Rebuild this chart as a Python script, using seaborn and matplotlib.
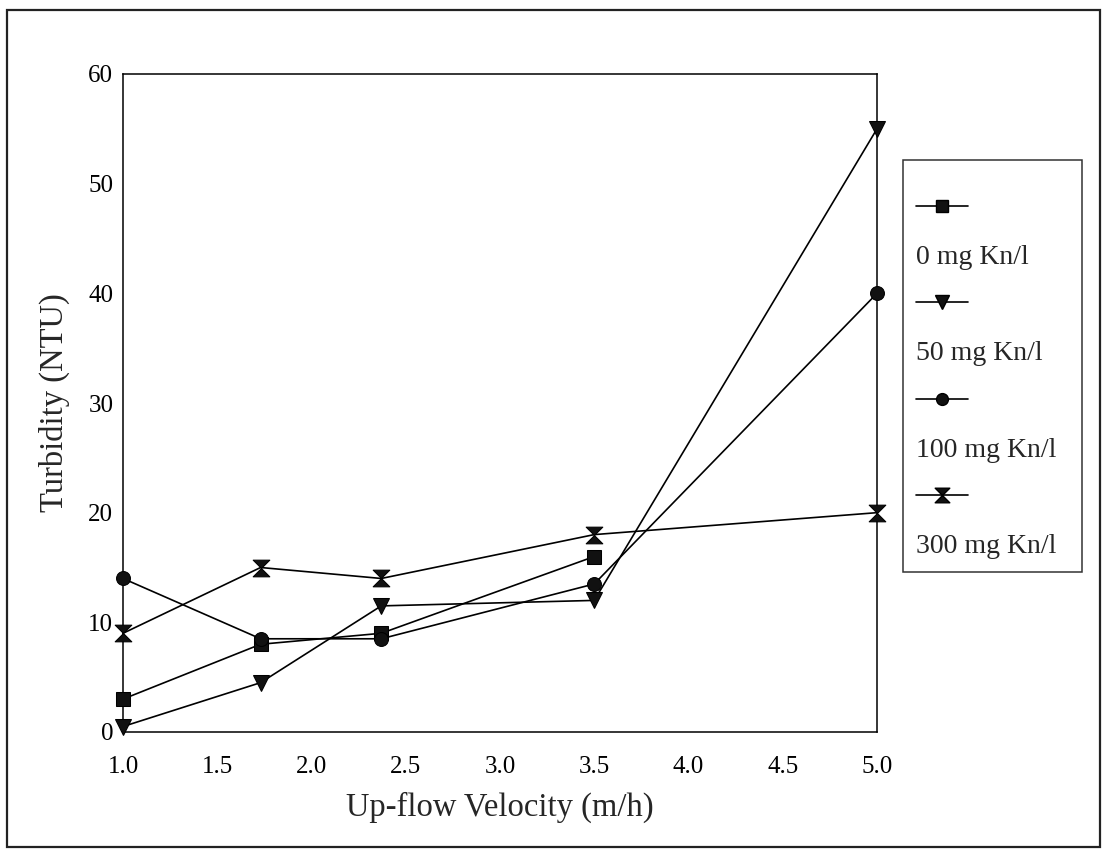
import matplotlib
matplotlib.use("Agg")
import matplotlib.pyplot as plt
import seaborn as sns
import numpy as np
import pandas as pd
from matplotlib.path import Path
from matplotlib.lines import Line2D
from matplotlib.patches import Rectangle
from matplotlib.ticker import MultipleLocator

sns.set_style("white")
plt.rcParams['font.family'] = ['Liberation Serif', 'DejaVu Serif']

# Data
velocity = [1.0, 1.73, 2.37, 3.5, 5.0]
series_labels = ["0 mg Kn/l", "50 mg Kn/l", "100 mg Kn/l", "300 mg Kn/l"]
turb_0 = [3.0, 8.0, 9.0, 16.0]          # no value at 5.0
turb_50 = [0.5, 4.5, 11.5, 12.0, 55.0]
turb_100 = [14.0, 8.5, 8.5, 13.5, 40.0]
turb_300 = [9.0, 15.0, 14.0, 18.0, 20.0]
x_ticks = [1.0, 1.5, 2.0, 2.5, 3.0, 3.5, 4.0, 4.5, 5.0]
y_ticks = [0, 10, 20, 30, 40, 50, 60]

hourglass = Path([(-1, 1), (1, 1), (0, 0), (1, -1), (-1, -1), (0, 0), (-1, 1)],
                 [Path.MOVETO, Path.LINETO, Path.LINETO, Path.LINETO,
                  Path.LINETO, Path.LINETO, Path.CLOSEPOLY])

markers = ["s", "v", "o", hourglass]
msizes = [10, 11, 10, 12]
values = [turb_0, turb_50, turb_100, turb_300]

fig = plt.figure(figsize=(11.07, 8.56), dpi=100)
ax = fig.add_axes([123 / 1107, 1 - 732 / 856, 754 / 1107, (732 - 74) / 856])

handles = []
for lab, vals, m, ms in zip(series_labels, values, markers, msizes):
    df = pd.DataFrame({"Velocity": velocity[:len(vals)], "Turbidity": vals})
    sns.lineplot(data=df, x="Velocity", y="Turbidity", ax=ax, color="black",
                 linewidth=1.2, marker=m, markersize=ms, markeredgecolor="black",
                 markerfacecolor="#111111", legend=False, clip_on=False, zorder=3)
    handles.append(Line2D([], [], color="black", linewidth=1.2, marker=m,
                          markersize=ms - 1.5, markerfacecolor="#111111",
                          markeredgecolor="black"))

ax.set_xlim(1.0, 5.0)
ax.set_ylim(0, 60)
ax.set_xticks(x_ticks)
ax.set_xticklabels([f"{t:.1f}" for t in x_ticks])
ax.set_yticks(y_ticks)
ax.yaxis.set_minor_locator(MultipleLocator(5))
ax.tick_params(axis="both", which="major", direction="in", length=7, width=0.8,
               labelsize=18, colors="black")
ax.tick_params(axis="y", which="major", pad=7)
ax.tick_params(axis="x", which="major", length=4, pad=17)
ax.tick_params(axis="y", which="minor", direction="in", length=4, width=0.6)
for s in ax.spines.values():
    s.set_visible(True)
    s.set_color("black")
    s.set_linewidth(1.1)

ax.set_xlabel("Up-flow Velocity (m/h)", fontsize=23.5, labelpad=10)
ax.set_ylabel("Turbidity (NTU)", fontsize=23.5, labelpad=13)

# Legend: marker line on one row, label below it
blank = Line2D([], [], color="none")
leg_handles, leg_labels = [], []
for h, lab in zip(handles, series_labels):
    leg_handles += [h, blank]
    leg_labels += ["", lab]
leg = fig.legend(leg_handles, leg_labels, loc="upper left",
                 bbox_to_anchor=(903 / 1107, 1 - 160 / 856, 179 / 1107, 0.0),
                 mode="expand", frameon=True, fancybox=False, fontsize=20,
                 handlelength=1.9, handletextpad=-1.9, labelspacing=0.82,
                 borderpad=0.45, borderaxespad=0.0,
                 title=" ", title_fontsize=1)
leg.get_frame().set_edgecolor("black")
leg.get_frame().set_linewidth(1.1)

# Outer frame around figure
fig.patches.append(Rectangle((0.006, 0.01), 0.988, 0.978, transform=fig.transFigure,
                             fill=False, edgecolor="#222222", linewidth=1.6))

fig.savefig("out.png", dpi=100)
